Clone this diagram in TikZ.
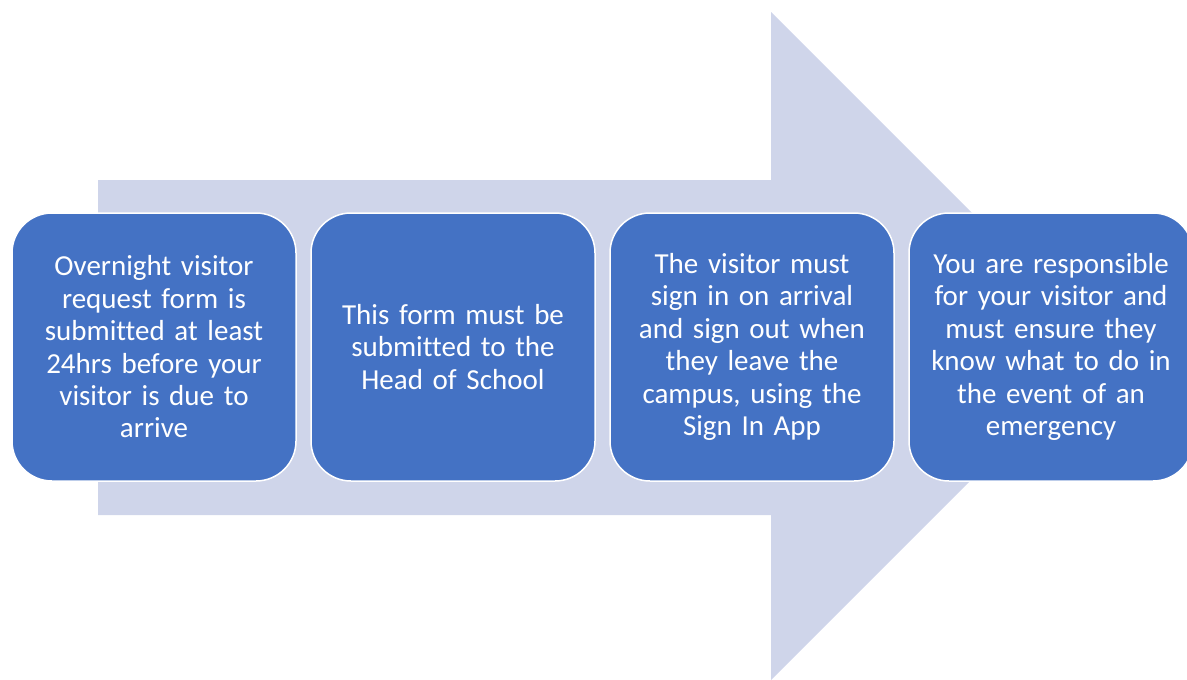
\documentclass[tikz,border=0pt]{standalone}
\usepackage{fontspec}
\setmainfont[Ligatures=NoCommon]{Carlito}
\definecolor{boxblue}{HTML}{4472C4}
\definecolor{arrowfill}{HTML}{CFD5EA}
\tikzset{
  stepbox/.style={draw=white, line width=1.5pt, fill=boxblue, rounded corners=40pt,
    minimum width=284pt, minimum height=268pt, text width=270pt, align=center,
    text=white, inner sep=0pt, font=\fontsize{29}{32.4}\selectfont},
}
\begin{document}
\begin{tikzpicture}[x=1pt,y=-1pt]
\useasboundingbox (0,0) rectangle (1187,680);
\fill[arrowfill] (98,180) -- (771,180) -- (771,12) -- (1105,346) -- (771,680) -- (771,515) -- (98,515) -- cycle;
\node[stepbox] (s1) at (154,347) {Overnight visitor\\request form is\\submitted at least\\24hrs before your\\visitor is due to\\arrive};
\node[stepbox] (s2) at (453,347) {This form must be\\submitted to the\\Head of School};
\node[stepbox] (s3) at (752,347) {The visitor must\\sign in on arrival\\and sign out when\\they leave the\\campus, using the\\Sign In App};
\node[stepbox] (s4) at (1051,347) {You are responsible\\for your visitor and\\must ensure they\\know what to do in\\the event of an\\emergency};
\end{tikzpicture}
\end{document}
